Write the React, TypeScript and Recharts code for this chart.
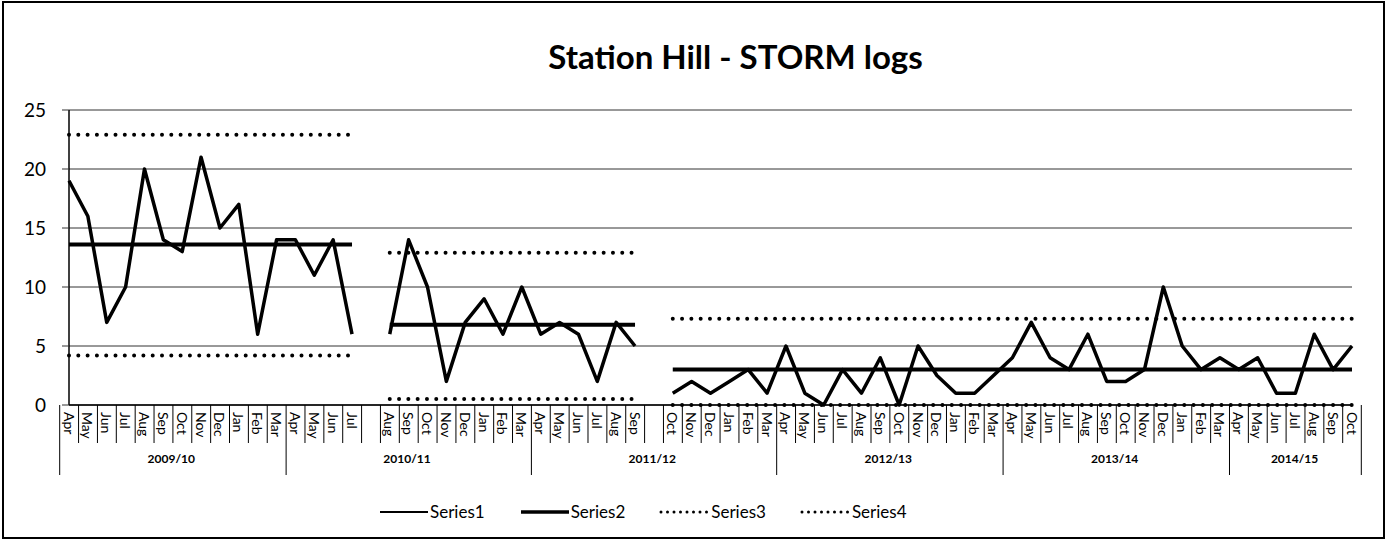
import { CartesianGrid, ComposedChart, Line, XAxis, YAxis } from "recharts";

const W = 1391;
const H = 543;
const MARGIN = { top: 110, right: 39, bottom: 63, left: 0 };
const Y_AXIS_W = 69;
const FONT = "Lato, 'Open Sans', sans-serif";

// month labels along the axis, "" = spacer between the three process stages
const months = [
  "Apr", "May", "Jun", "Jul", "Aug", "Sep", "Oct", "Nov", "Dec", "Jan", "Feb", "Mar",
  "Apr", "May", "Jun", "Jul", "",
  "Aug", "Sep", "Oct", "Nov", "Dec", "Jan", "Feb", "Mar",
  "Apr", "May", "Jun", "Jul", "Aug", "Sep", "",
  "Oct", "Nov", "Dec", "Jan", "Feb", "Mar",
  "Apr", "May", "Jun", "Jul", "Aug", "Sep", "Oct", "Nov", "Dec", "Jan", "Feb", "Mar",
  "Apr", "May", "Jun", "Jul", "Aug", "Sep", "Oct", "Nov", "Dec", "Jan", "Feb", "Mar",
  "Apr", "May", "Jun", "Jul", "Aug", "Sep", "Oct",
];

const fiscalYears = ["2009/10", "2010/11", "2011/12", "2012/13", "2013/14", "2014/15"];
const fiscalYearSpan = [12, 13, 13, 12, 12, 7];

// monthly STORM log counts, one array per stage
const logsStage1 = [19, 16, 7, 10, 20, 14, 13, 21, 15, 17, 6, 14, 14, 11, 14, 6];
const logsStage2 = [6, 14, 10, 2, 7, 9, 6, 10, 6, 7, 6, 2, 7, 5];
const logsStage3 = [
  1, 2, 1, 2, 3, 1,
  5, 1, 0, 3, 1, 4, 0, 5, 2.5, 1, 1, 2.5,
  4, 7, 4, 3, 6, 2, 2, 3, 10, 5, 3, 4,
  3, 4, 1, 1, 6, 3, 5,
];
const stageMean = [13.6, 6.8, 3.0];
const stageUpper = [22.9, 12.9, 7.3];
const stageLower = [4.2, 0.5, 0];

const yTicks = [0, 5, 10, 15, 20, 25];

const rows: any[] = [];
[logsStage1, logsStage2, logsStage3].forEach((logs, s) => {
  if (s > 0) rows.push({ idx: rows.length, s1: null, s2: null, s3: null, s4: null });
  logs.forEach((v) => {
    rows.push({ idx: rows.length, s1: v, s2: stageMean[s], s3: stageUpper[s], s4: stageLower[s] });
  });
});

const STEP = (W - MARGIN.left - MARGIN.right - Y_AXIS_W) / months.length;
const groupStarts: number[] = [];
fiscalYearSpan.reduce((acc, n) => {
  groupStarts.push(acc);
  return acc + n;
}, 0);

function MonthTick(props: any) {
  const { x, y, payload } = props;
  const i = Number(payload.value);
  const g = groupStarts.indexOf(i);
  const left = x - STEP / 2;
  return (
    <g>
      <line x1={left} x2={left} y1={y} y2={y + (g >= 0 ? 70 : 38)} stroke="#000" strokeWidth={1} />
      {i === months.length - 1 && (
        <line x1={x + STEP / 2} x2={x + STEP / 2} y1={y} y2={y + 70} stroke="#000" strokeWidth={1} />
      )}
      <text
        transform={`translate(${x},${y + 7}) rotate(90)`}
        textAnchor="start"
        dominantBaseline="central"
        fontSize={14}
        fontFamily={FONT}
        fill="#000"
      >
        {months[i]}
      </text>
      {g >= 0 && (
        <text
          x={left + (fiscalYearSpan[g] * STEP) / 2}
          y={y + 58}
          textAnchor="middle"
          fontSize={12}
          fontWeight={700}
          fontFamily={FONT}
          fill="#000"
        >
          {fiscalYears[g]}
        </text>
      )}
    </g>
  );
}

function LegendSample({ dotted, width }: { dotted: boolean; width: number }) {
  return (
    <svg width={52} height={10} style={{ display: "block" }}>
      <line
        x1={2}
        x2={50}
        y1={5}
        y2={5}
        stroke="#000"
        strokeWidth={dotted ? 3 : width}
        strokeDasharray={dotted ? "0 6.5" : undefined}
        strokeLinecap={dotted ? "round" : "butt"}
      />
    </svg>
  );
}

export default function App() {
  const legend = [
    { name: "Series1", dotted: false, width: 2 },
    { name: "Series2", dotted: false, width: 3.5 },
    { name: "Series3", dotted: true, width: 3 },
    { name: "Series4", dotted: true, width: 3 },
  ];
  return (
    <div style={{ position: "fixed", left: 0, top: 0, width: W, height: H, background: "#fff", fontFamily: FONT }}>
      <div
        style={{
          position: "absolute",
          left: 2,
          top: 1,
          width: W - 8,
          height: H - 5,
          border: "2px solid #000",
          boxSizing: "border-box",
        }}
      />
      <div
        style={{
          position: "absolute",
          left: 0,
          width: W,
          top: 35,
          textAlign: "center",
          fontSize: 33,
          fontWeight: 700,
          color: "#000",
          lineHeight: "42px",
          paddingLeft: 80,
          boxSizing: "border-box",
        }}
      >
        Station Hill - STORM logs
      </div>
      <ComposedChart width={W} height={H} data={rows} margin={MARGIN}>
        <CartesianGrid yAxisId="left" vertical={false} stroke="#333" strokeWidth={1} />
        <XAxis
          dataKey="idx"
          type="category"
          interval={0}
          height={75}
          tickLine={false}
          tickSize={0}
          tickMargin={0}
          axisLine={{ stroke: "#000", strokeWidth: 1.5 }}
          tick={<MonthTick />}
        />
        <YAxis
          yAxisId="left"
          width={Y_AXIS_W}
          domain={[0, 25]}
          ticks={yTicks}
          interval={0}
          tickSize={7}
          tickMargin={16}
          axisLine={{ stroke: "#000", strokeWidth: 1.5 }}
          tickLine={{ stroke: "#333" }}
          tick={{ fill: "#000", fontSize: 19, fontFamily: FONT }}
        />
        <YAxis
          yAxisId="right"
          orientation="right"
          width={0}
          domain={[0, 25]}
          tick={false}
          tickLine={false}
          axisLine={{ stroke: "#222", strokeWidth: 1.5 }}
        />
        <Line
          yAxisId="left"
          dataKey="s3"
          name="Series3"
          stroke="#000"
          strokeWidth={4}
          strokeDasharray="0 9.3"
          strokeLinecap="round"
          dot={false}
          activeDot={false}
          isAnimationActive={false}
        />
        <Line
          yAxisId="left"
          dataKey="s4"
          name="Series4"
          stroke="#000"
          strokeWidth={4}
          strokeDasharray="0 9.3"
          strokeLinecap="round"
          dot={false}
          activeDot={false}
          isAnimationActive={false}
        />
        <Line
          yAxisId="left"
          dataKey="s2"
          name="Series2"
          stroke="#000"
          strokeWidth={4}
          dot={false}
          activeDot={false}
          isAnimationActive={false}
        />
        <Line
          yAxisId="left"
          dataKey="s1"
          name="Series1"
          stroke="#000"
          strokeWidth={3.5}
          strokeLinejoin="round"
          dot={false}
          activeDot={false}
          isAnimationActive={false}
        />
      </ComposedChart>
      <div
        style={{
          position: "absolute",
          left: 378,
          top: 501,
          display: "flex",
          alignItems: "center",
          gap: 34,
          fontSize: 17,
          color: "#000",
        }}
      >
        {legend.map((l) => (
          <div key={l.name} style={{ display: "flex", alignItems: "center" }}>
            <LegendSample dotted={l.dotted} width={l.width} />
            <span>{l.name}</span>
          </div>
        ))}
      </div>
    </div>
  );
}
